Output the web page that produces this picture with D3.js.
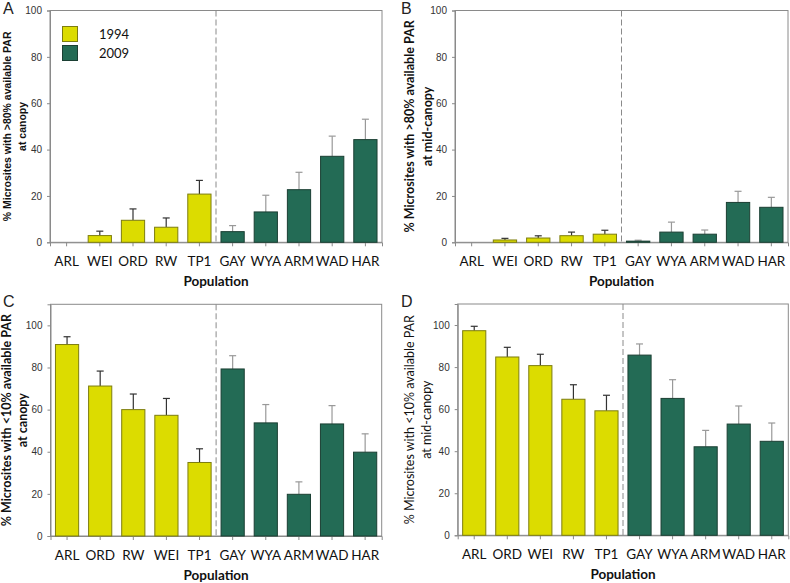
<!DOCTYPE html>
<html>
<head>
<meta charset="utf-8">
<script src="https://cdn.jsdelivr.net/npm/d3@7"></script>
<style>
  body { margin: 0; background: #fff; }
  svg { display: block; }
</style>
</head>
<body>
<div id="chart"></div>
<script>
// categories per panel (order differs between top and bottom rows)
const catsA = ["ARL", "WEI", "ORD", "RW", "TP1", "GAY", "WYA", "ARM", "WAD", "HAR"]
const catsB = ["ARL", "WEI", "ORD", "RW", "TP1", "GAY", "WYA", "ARM", "WAD", "HAR"]
const catsC = ["ARL", "ORD", "RW", "WEI", "TP1", "GAY", "WYA", "ARM", "WAD", "HAR"]
const catsD = ["ARL", "ORD", "WEI", "RW", "TP1", "GAY", "WYA", "ARM", "WAD", "HAR"]

// means and mean+SE tops
const valsA = [0, 2.9, 9.5, 6.5, 20.8, 4.6, 13.1, 22.7, 37.1, 44.3]
const errA  = [0, 4.8, 14.4, 10.5, 26.7, 7.2, 20.3, 30.2, 45.8, 53.1]
const valsB = [0, 1.0, 1.85, 2.85, 3.5, 0.5, 4.4, 3.5, 17.2, 15.1]
const errB  = [0, 1.7, 2.8, 4.4, 5.2, 0.9, 8.7, 5.3, 22.0, 19.4]
const valsC = [90.9, 71.2, 60.0, 57.3, 34.9, 79.3, 53.7, 19.8, 53.2, 39.8]
const errC  = [94.6, 78.3, 67.4, 65.3, 41.4, 85.6, 62.4, 25.7, 61.9, 48.5]
const valsD = [97.3, 84.8, 80.7, 64.7, 59.2, 85.7, 65.1, 42.1, 52.9, 44.7]
const errD  = [99.4, 89.4, 86.1, 71.6, 66.6, 91.0, 74.0, 49.9, 61.5, 53.4]

const years = ["1994", "2009"]
const yearOf = ["1994", "1994", "1994", "1994", "1994", "2009", "2009", "2009", "2009", "2009"]
const ticksTop = [0, 20, 40, 60, 80, 100]
const ticksBottom = [0, 20, 40, 60, 80, 100]

const COLORS = { "1994": "#dcdc00", "2009": "#236b55" }
const STROKES = { "1994": "#7d7d10", "2009": "#1b3f33" }
const ERRCOL = { "1994": "#333", "2009": "#999" }
const CALIBRI = "Lato, 'Open Sans', sans-serif"
const ARIAL = "'Liberation Sans', Arial, sans-serif"

const svg = d3.select("#chart").append("svg")
  .attr("width", 790)
  .attr("height", 583)

function drawPanel(p) {
  const g = svg.append("g")

  const x = d3.scaleBand()
    .domain(p.cats)
    .range([p.left, p.right])
    .paddingInner(0.3)
    .paddingOuter(0.15)
  const y = d3.scaleLinear()
    .domain([0, p.ymax])
    .range([p.bottom, p.top])

  // frame
  g.append("rect")
    .attr("x", p.left).attr("y", p.top)
    .attr("width", p.right - p.left).attr("height", p.bottom - p.top)
    .attr("fill", "none").attr("stroke", "#8a8a8a").attr("stroke-width", 1)

  // y axis
  const yAxis = g.append("g")
    .attr("transform", `translate(${p.left},0)`)
    .call(d3.axisLeft(y).tickValues(p.ticks).tickSize(3).tickPadding(5))
  yAxis.select(".domain").attr("stroke", "#8a8a8a")
  yAxis.selectAll(".tick line").attr("stroke", "#8a8a8a")
  yAxis.selectAll(".tick text")
    .attr("font-family", ARIAL).attr("font-size", "10px").attr("fill", "#333")

  // x axis
  const xAxis = g.append("g")
    .attr("transform", `translate(0,${p.bottom})`)
    .call(d3.axisBottom(x).tickSize(4).tickPadding(10))
  xAxis.select(".domain").attr("stroke", "#8a8a8a")
  xAxis.selectAll(".tick line").attr("stroke", "#8a8a8a")
  xAxis.selectAll(".tick text")
    .attr("font-family", CALIBRI).attr("font-size", "13.5px").attr("fill", "#111")

  // dashed divider between the two years
  const divX = (x(p.cats[4]) + x.bandwidth() + x(p.cats[5])) / 2
  g.append("line")
    .attr("x1", divX).attr("x2", divX)
    .attr("y1", p.top).attr("y2", p.bottom)
    .attr("stroke", "#8a8a8a").attr("stroke-dasharray", "6,3")

  const rows = p.cats.map((c, i) => ({ cat: c, v: p.vals[i], e: p.errs[i], yr: yearOf[i] }))

  // error bars (upper only)
  const cap = 3.5
  rows.filter(d => d.e > d.v).forEach(d => {
    const cx = x(d.cat) + x.bandwidth() / 2
    g.append("line")
      .attr("x1", cx).attr("x2", cx)
      .attr("y1", y(d.v)).attr("y2", y(d.e))
      .attr("stroke", ERRCOL[d.yr]).attr("stroke-width", 1.2)
    g.append("line")
      .attr("x1", cx - cap).attr("x2", cx + cap)
      .attr("y1", y(d.e)).attr("y2", y(d.e))
      .attr("stroke", ERRCOL[d.yr]).attr("stroke-width", 1.2)
  })

  // bars
  g.selectAll(".bar")
    .data(rows.filter(d => d.v > 0))
    .enter().append("rect")
    .attr("class", "bar")
    .attr("x", d => x(d.cat))
    .attr("width", x.bandwidth())
    .attr("y", d => y(d.v))
    .attr("height", d => y(0) - y(d.v))
    .attr("fill", d => COLORS[d.yr])
    .attr("stroke", d => STROKES[d.yr])
    .attr("stroke-width", 1)

  // x label
  g.append("text")
    .attr("x", (p.left + p.right) / 2)
    .attr("y", p.bottom + 44)
    .attr("text-anchor", "middle")
    .attr("font-family", CALIBRI).attr("font-size", "13.5px").attr("font-weight", "bold")
    .attr("fill", "#111")
    .text("Population")

  // y label, two lines
  const midY = (p.top + p.bottom) / 2
  const yl = g.append("text")
    .attr("transform", `translate(${p.ylx},${midY}) rotate(-90)`)
    .attr("text-anchor", "middle")
    .attr("font-family", p.yFont).attr("font-size", p.yFontSize)
    .attr("font-weight", p.yBold ? "bold" : "normal")
    .attr("fill", "#111")
  yl.append("tspan").attr("x", 0).attr("dy", 0).text(p.yl1)
  yl.append("tspan").attr("x", 0).attr("dy", p.lineGap).text(p.yl2)

  // panel letter
  g.append("text")
    .attr("x", p.letterX).attr("y", p.letterY)
    .attr("font-family", ARIAL).attr("font-size", "16px")
    .attr("fill", "#222")
    .text(p.letter)

  return { g, x, y }
}

const pA = drawPanel({
  cats: catsA, vals: valsA, errs: errA, ymax: 100, ticks: ticksTop,
  left: 50, right: 382, top: 10.5, bottom: 242.3,
  yl1: "% Microsites with >80% available PAR", yl2: "at canopy",
  ylx: 10.5, lineGap: 15, yFont: ARIAL, yFontSize: "10.5px", yBold: true,
  letter: "A", letterX: 3, letterY: 14
})

// legend in panel A
years.forEach((yr, i) => {
  pA.g.append("rect")
    .attr("x", 62.5).attr("y", 26.5 + i * 19)
    .attr("width", 15).attr("height", 15)
    .attr("fill", COLORS[yr]).attr("stroke", STROKES[yr])
  pA.g.append("text")
    .attr("x", 99).attr("y", 38.5 + i * 19)
    .attr("font-family", CALIBRI).attr("font-size", "13px").attr("fill", "#111")
    .text(yr)
})

drawPanel({
  cats: catsB, vals: valsB, errs: errB, ymax: 100, ticks: ticksTop,
  left: 455, right: 788, top: 10.5, bottom: 242.3,
  yl1: "% Microsites with >80% available PAR", yl2: "at mid-canopy",
  ylx: 414, lineGap: 18, yFont: CALIBRI, yFontSize: "12.5px", yBold: true,
  letter: "B", letterX: 401, letterY: 14
})

drawPanel({
  cats: catsC, vals: valsC, errs: errC, ymax: 110, ticks: ticksBottom,
  left: 50.5, right: 381.7, top: 304.3, bottom: 536,
  yl1: "% Microsites with <10% available PAR", yl2: "at canopy",
  ylx: 11, lineGap: 16, yFont: CALIBRI, yFontSize: "12.5px", yBold: true,
  letter: "C", letterX: 3, letterY: 307
})

drawPanel({
  cats: catsD, vals: valsD, errs: errD, ymax: 110, ticks: ticksBottom,
  left: 457.7, right: 788.3, top: 304, bottom: 535.3,
  yl1: "% Microsites with <10% available PAR", yl2: "at mid-canopy",
  ylx: 413.5, lineGap: 17, yFont: CALIBRI, yFontSize: "12.5px", yBold: false,
  letter: "D", letterX: 401, letterY: 307
})
</script>
</body>
</html>
